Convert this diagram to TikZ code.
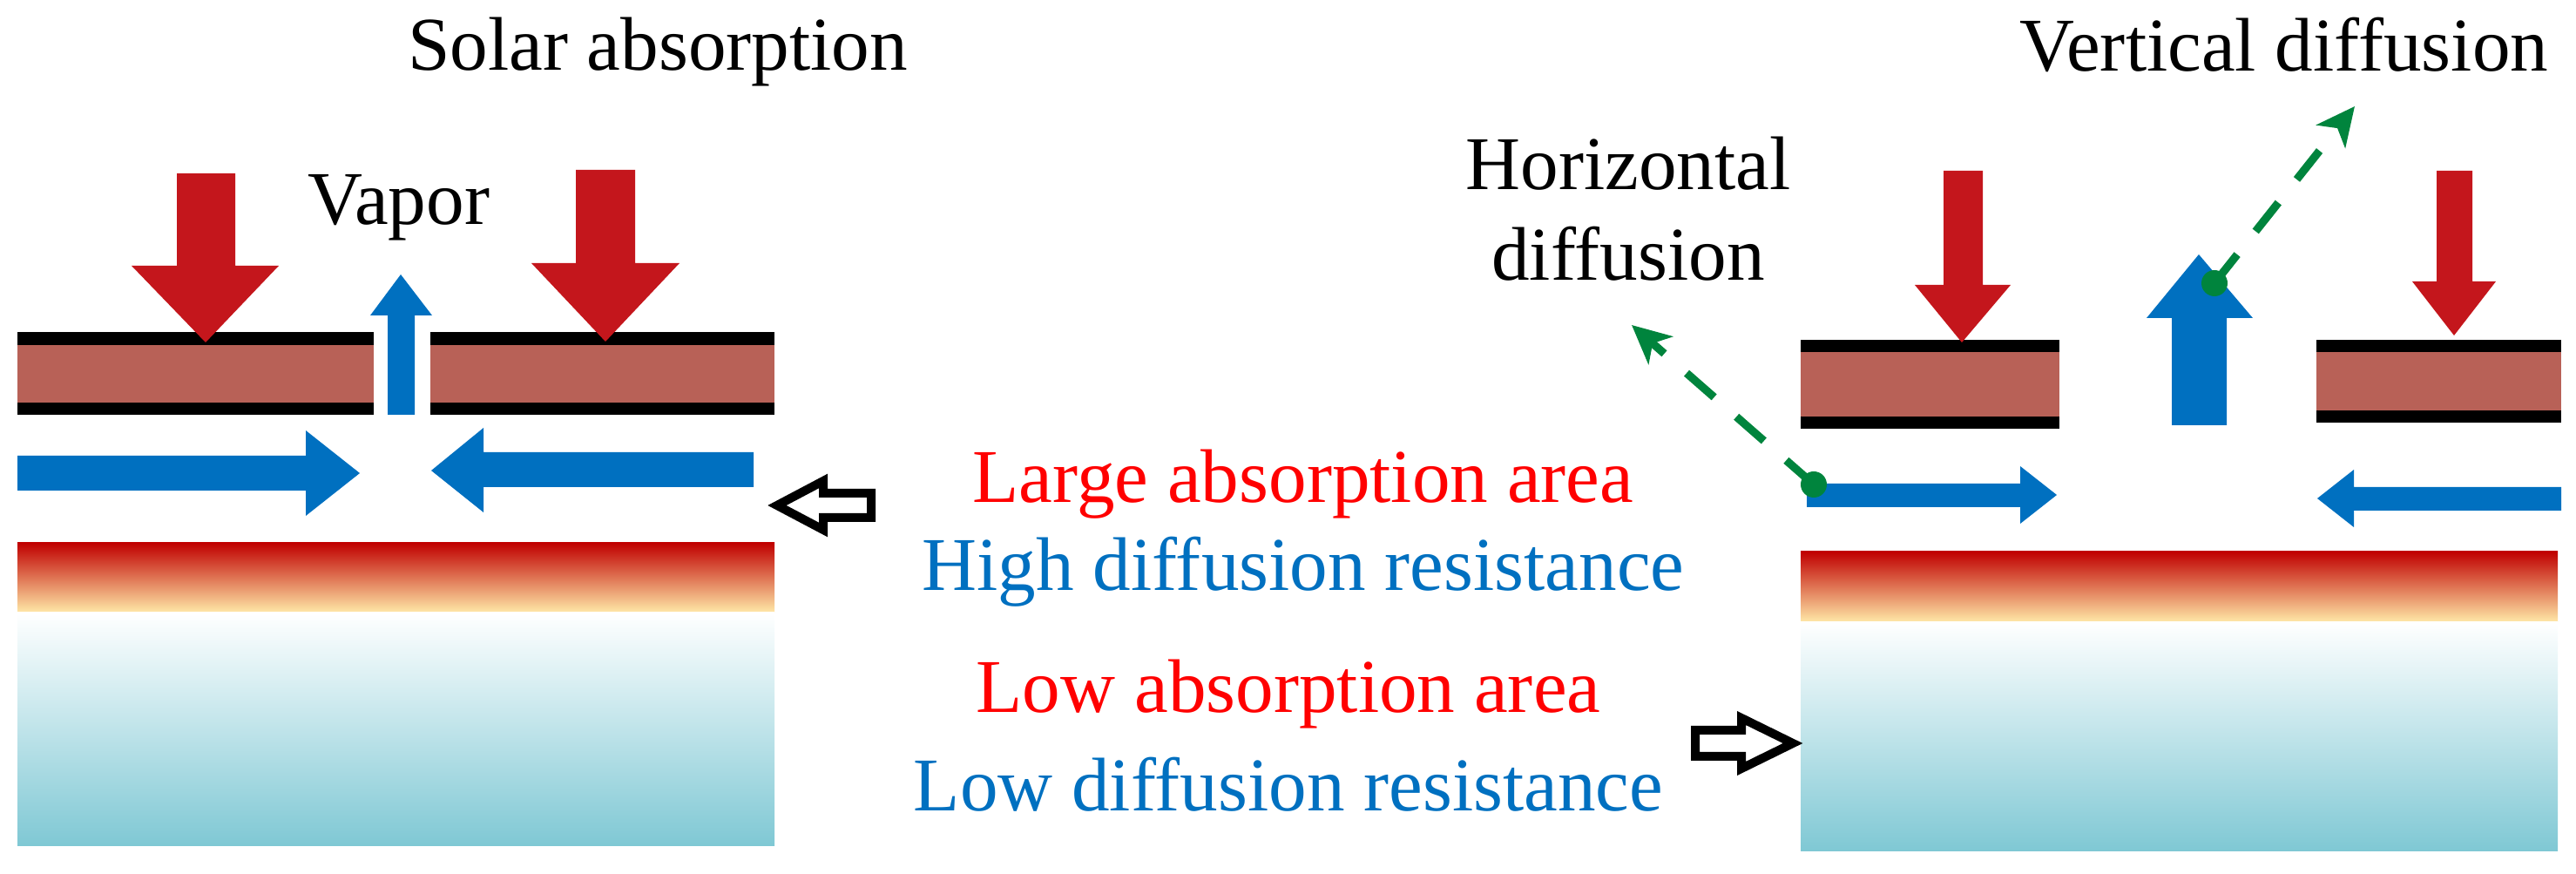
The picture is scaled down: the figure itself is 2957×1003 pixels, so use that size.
\documentclass[tikz,border=0pt]{standalone}
\usepackage{fontspec}
\setmainfont{Liberation Serif}
\usetikzlibrary{arrows.meta}
\definecolor{redarrow}{HTML}{C4161C}
\definecolor{bluearrow}{HTML}{0070C0}
\definecolor{brownband}{HTML}{B86157}
\definecolor{hotred}{HTML}{C00000}
\definecolor{hotyellow}{HTML}{FFE9A8}
\definecolor{teal}{HTML}{7FC8D4}
\definecolor{greenarrow}{HTML}{00843D}
\definecolor{textblue}{HTML}{0070C0}
\tikzset{
  x=0.25pt,y=-0.25pt,
  lbl/.style={inner sep=0pt,align=center,font=\fontsize{21.8pt}{26pt}\selectfont},
  redfill/.style={fill=redarrow},
  bluefill/.style={fill=bluearrow},
  band/.style={fill=black},
  brown/.style={fill=brownband},
  outl/.style={draw=black,line width=2.5pt,fill=white,miter limit=10},
  greendash/.style={draw=greenarrow,line width=2.3pt,dash pattern=on 10.5pt off 8.5pt,-{Stealth[length=11pt,width=10.5pt,inset=3pt]}},
  greendot/.style={circle,fill=greenarrow,minimum size=7.5pt,inner sep=0pt},
  hotgrad/.style={top color=hotred,bottom color=hotyellow},
  waterlayer/.style={top color=white,bottom color=teal}
}
\begin{document}
\begin{tikzpicture}
\useasboundingbox (0,0) rectangle (2957,1003);
% left panel
\fill[band] (20,381) rectangle (429,476);
\fill[brown] (20,396) rectangle (429,462);
\fill[band] (494,381) rectangle (889,476);
\fill[brown] (494,396) rectangle (889,462);
\fill[redfill] (203,199) -- (270,199) -- (270,305) -- (320,305) -- (236,393) -- (151,305) -- (203,305) -- cycle;
\fill[redfill] (661,195) -- (729,195) -- (729,302) -- (780,302) -- (695,392) -- (610,302) -- (661,302) -- cycle;
\fill[bluefill] (445,476) -- (445,362) -- (425,362) -- (460,315) -- (496,362) -- (476,362) -- (476,476) -- cycle;
\fill[bluefill] (20,523) -- (351,523) -- (351,494) -- (413,543) -- (351,592) -- (351,563) -- (20,563) -- cycle;
\fill[bluefill] (865,519) -- (555,519) -- (555,491) -- (495,540) -- (555,588) -- (555,559) -- (865,559) -- cycle;
\shade[hotgrad] (20,623) rectangle (889,703);
\shade[waterlayer] (20,703) rectangle (889,971);
% right panel
\fill[band] (2067,390) rectangle (2364,492);
\fill[brown] (2067,404) rectangle (2364,478);
\fill[band] (2659,390) rectangle (2940,485);
\fill[brown] (2659,404) rectangle (2940,471);
\fill[redfill] (2231,196) -- (2276,196) -- (2276,327) -- (2308,327) -- (2252,393) -- (2198,327) -- (2231,327) -- cycle;
\fill[redfill] (2797,196) -- (2838,196) -- (2838,323) -- (2865,323) -- (2817,385) -- (2769,323) -- (2797,323) -- cycle;
\fill[bluefill] (2493,488) -- (2493,365) -- (2464,365) -- (2524,292) -- (2586,365) -- (2556,365) -- (2556,488) -- cycle;
\fill[bluefill] (2074,555) -- (2319,555) -- (2319,535) -- (2361,568) -- (2319,601) -- (2319,582) -- (2074,582) -- cycle;
\fill[bluefill] (2940,559) -- (2702,559) -- (2702,539) -- (2660,572) -- (2702,605) -- (2702,586) -- (2940,586) -- cycle;
\shade[hotgrad] (2067,633) rectangle (2936,714);
\shade[waterlayer] (2067,714) rectangle (2936,977);
% outline arrows
\draw[outl] (1000,566) -- (945,566) -- (945,552) -- (892,580) -- (945,608) -- (945,594) -- (1000,594) -- cycle;
\draw[outl] (1946,838) -- (1999,838) -- (1999,824) -- (2058,853) -- (1999,882) -- (1999,868) -- (1946,868) -- cycle;
% green
\node[greendot] (d1) at (2082,556) {};
\node[greendot] (d2) at (2542,325) {};
\coordinate (g1) at (1873,373);
\coordinate (g2) at (2703,122);
\draw[greendash] (d1.center) -- (g1);
\draw[greendash] (d2.center) -- (g2);
% text
\node[lbl] (t1) at (755,60) {Solar absorption};
\node[lbl] (t2) at (458,238) {Vapor};
\node[lbl] (t3) at (2622,51) {Vertical diffusion};
\node[lbl,align=center] (t4) at (1869,240) {Horizontal\\diffusion};
\node[lbl,text=red] (t5) at (1496,556) {Large absorption area};
\node[lbl,text=textblue] (t6) at (1496,656) {High diffusion resistance};
\node[lbl,text=red] (t7) at (1479,797) {Low absorption area};
\node[lbl,text=textblue] (t8) at (1479,900) {Low diffusion resistance};
\end{tikzpicture}
\end{document}
